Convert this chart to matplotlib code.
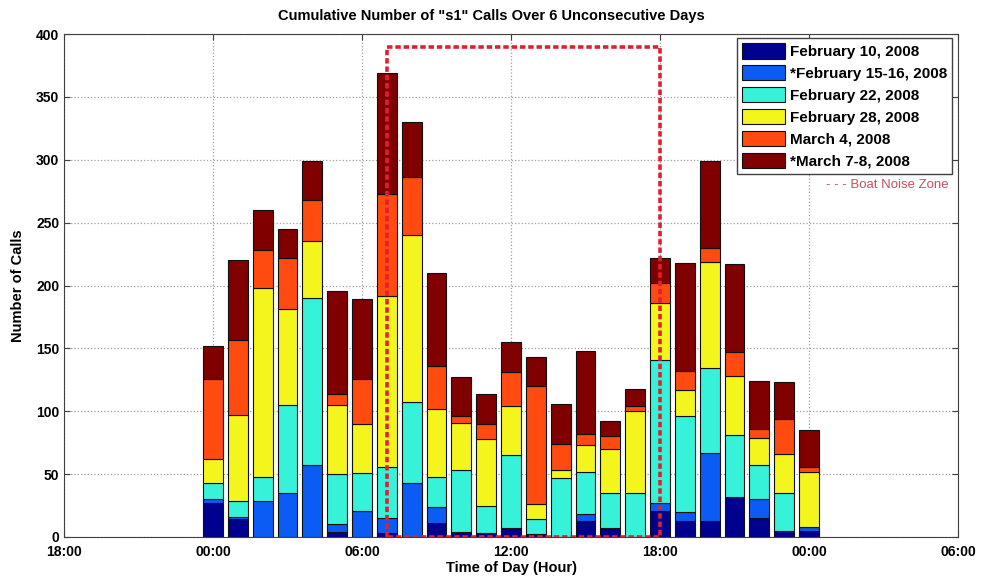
import numpy as np
import matplotlib
matplotlib.use('Agg')
import matplotlib.pyplot as plt

plt.rcParams['font.family'] = ['Liberation Sans', 'DejaVu Sans']

hours = list(range(0, 25))

# calls per hour for each day (stack order bottom -> top)
feb10 = [27, 14, 0, 0, 0, 4, 0, 3, 0, 11, 4, 3, 7, 2, 0, 13, 7, 0, 21, 13, 13, 32, 15, 5, 5]
feb15 = [3, 2, 29, 35, 57, 6, 21, 12, 43, 13, 0, 0, 0, 0, 0, 5, 0, 0, 6, 7, 54, 0, 15, 0, 3]
feb22 = [13, 13, 19, 70, 133, 40, 30, 41, 64, 24, 49, 22, 58, 12, 47, 34, 28, 35, 114, 76, 67, 49, 27, 30, 0]
feb28 = [19, 68, 150, 76, 45, 55, 39, 136, 133, 54, 38, 53, 39, 12, 6, 21, 35, 65, 45, 21, 85, 47, 22, 31, 44]
mar04 = [64, 60, 30, 41, 33, 9, 36, 81, 46, 34, 5, 12, 27, 94, 21, 9, 10, 4, 16, 15, 11, 19, 7, 28, 4]
mar07 = [26, 63, 32, 23, 31, 82, 63, 96, 44, 74, 31, 24, 24, 23, 32, 66, 12, 14, 20, 86, 69, 70, 38, 29, 29]

series = [feb10, feb15, feb22, feb28, mar04, mar07]
labels = ['February 10, 2008', '*February 15-16, 2008', 'February 22, 2008',
          'February 28, 2008', 'March 4, 2008', '*March 7-8, 2008']
colors = ['#00008f', '#0a5cf5', '#35f2d8', '#f5f51e', '#ff4b10', '#800000']

# boat noise zone (hours and height)
zone_start, zone_end, zone_top = 7, 18, 390

xtick_pos = [-6, 0, 6, 12, 18, 24, 30]
xtick_labels = ['18:00', '00:00', '06:00', '12:00', '18:00', '00:00', '06:00']

fig = plt.figure(figsize=(9.82, 5.8), dpi=100)
ax = fig.add_axes([64 / 982, 43 / 580, 894 / 982, 503 / 580])

bottom = np.zeros(len(hours))
for vals, lab, col in zip(series, labels, colors):
    ax.bar(hours, vals, width=0.8, bottom=bottom, color=col, edgecolor='#101010',
           linewidth=0.8, label=lab, zorder=2)
    bottom += np.array(vals)

# dashed box for the boat noise zone
ax.plot([zone_start, zone_start, zone_end, zone_end, zone_start],
        [0, zone_top, zone_top, 0, 0], linestyle=(0, (1.5, 0.8)), color='#e02030',
        linewidth=2.6, zorder=3)

ax.set_xlim(-6, 30)
ax.set_ylim(0, 400)
ax.set_xticks(xtick_pos)
ax.set_xticklabels(xtick_labels, fontweight='bold', fontsize=10)
ax.set_yticks(range(0, 401, 50))
ax.set_yticklabels([str(v) for v in range(0, 401, 50)], fontweight='bold', fontsize=10)
ax.tick_params(direction='in', top=True, right=True, length=4, color='#404040')
ax.tick_params(axis='x', pad=6)
ax.grid(linestyle=':', color='#a0a0a0', linewidth=0.9, zorder=0)
ax.set_axisbelow(True)
for s in ax.spines.values():
    s.set_color('#404040')

# title centred on the figure, as in the original
fig.text(0.5, 1 - 16 / 580, 'Cumulative Number of "s1" Calls Over 6 Unconsecutive Days',
         ha='center', va='center', fontweight='bold', fontsize=10.5)
ax.set_xlabel('Time of Day (Hour)', fontweight='bold', fontsize=10.5, labelpad=1)
ax.set_ylabel('Number of Calls', fontweight='bold', fontsize=10.5, labelpad=8)

leg = ax.legend(loc='upper right', prop={'weight': 'bold', 'size': 11},
                handlelength=2.8, handleheight=1.15, handletextpad=0.3, labelspacing=0.4,
                borderpad=0.35, borderaxespad=0.2, fancybox=False, framealpha=1,
                edgecolor='#404040', bbox_to_anchor=(0.997, 0.998))
leg.get_frame().set_linewidth(1.0)

ax.text(0.99, 0.70, '- - - Boat Noise Zone', transform=ax.transAxes, ha='right',
        va='center', fontsize=9.5, color='#c85060')

fig.savefig('out.png', dpi=100)
